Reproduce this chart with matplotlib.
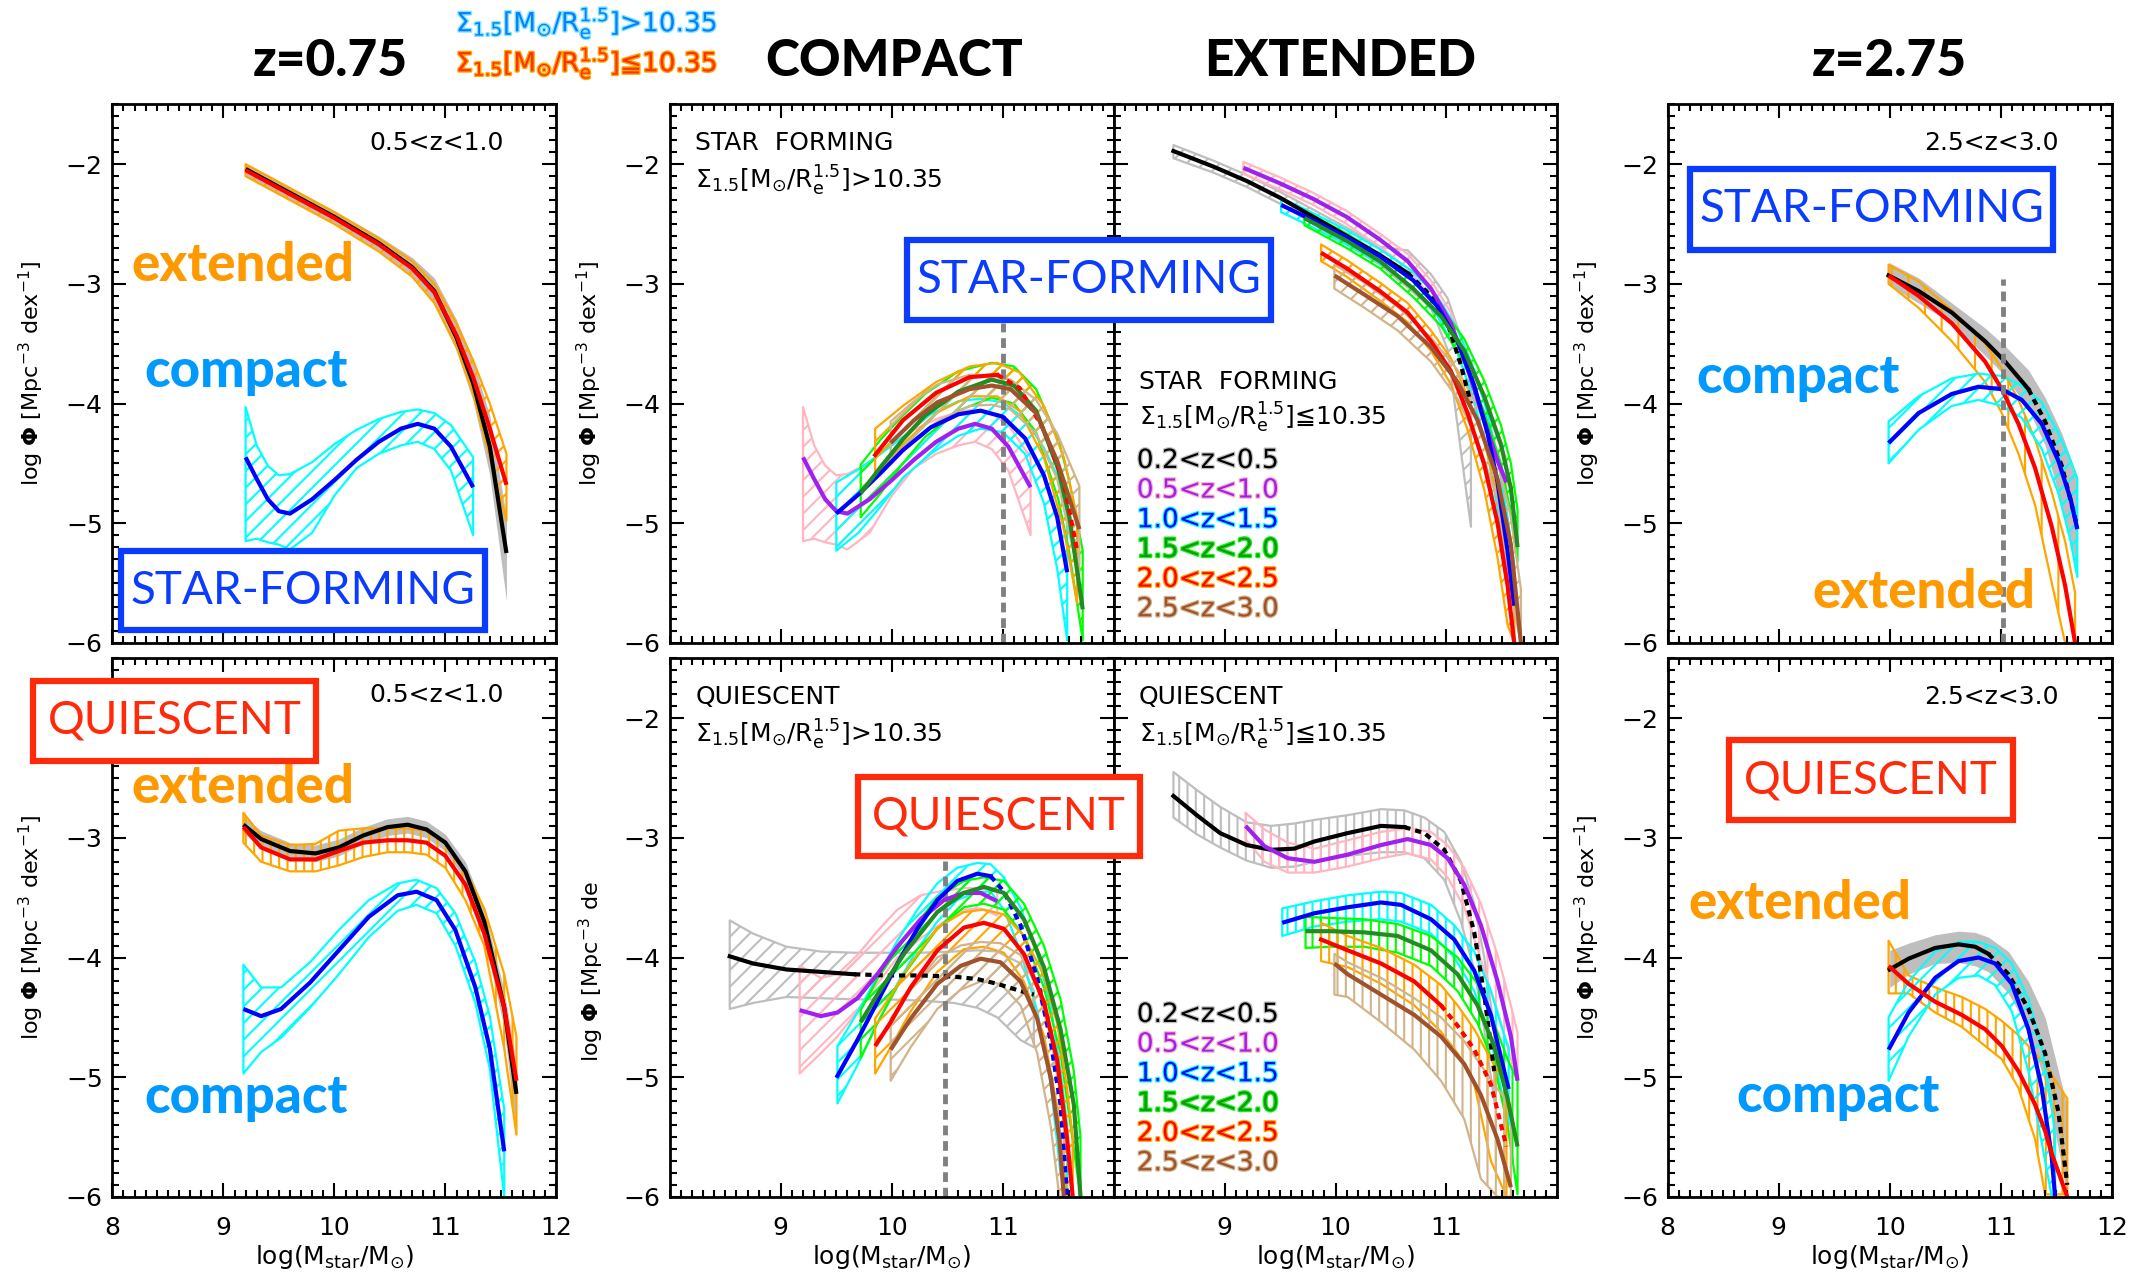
import numpy as np
import matplotlib
matplotlib.use('Agg')
import matplotlib.pyplot as plt
from matplotlib.patches import Rectangle
from matplotlib.ticker import MultipleLocator
import matplotlib.patheffects as pe

plt.rcParams['font.family'] = ['DejaVu Sans']
plt.rcParams['mathtext.fontset'] = 'dejavusans'
plt.rcParams['hatch.linewidth'] = 1.5

# ---------------- data (log M, log Phi) ----------------
# panel A: star-forming 0.5<z<1.0
A_tot_x = [9.2, 9.6, 10.0, 10.4, 10.7, 10.9, 11.1, 11.25, 11.4, 11.55]
A_tot_y = [-2.04, -2.24, -2.44, -2.66, -2.86, -3.06, -3.45, -3.83, -4.36, -5.25]
A_tot_lo = [-2.09, -2.29, -2.49, -2.72, -2.93, -3.15, -3.56, -3.98, -4.6, -5.65]
A_tot_hi = [-1.99, -2.19, -2.39, -2.60, -2.78, -2.95, -3.30, -3.65, -4.1, -4.95]
A_ext_y = [-2.05, -2.25, -2.45, -2.67, -2.87, -3.07, -3.43, -3.78, -4.21, -4.68]
A_ext_lo = [-2.10, -2.30, -2.50, -2.73, -2.94, -3.16, -3.53, -3.92, -4.45, -4.98]
A_ext_hi = [-2.00, -2.20, -2.40, -2.62, -2.81, -3.00, -3.33, -3.64, -4.00, -4.42]
A_cmp_x = [9.2, 9.3, 9.4, 9.5, 9.6, 9.8, 10.0, 10.2, 10.4, 10.6, 10.75, 10.9, 11.05, 11.25]
A_cmp_y = [-4.45, -4.63, -4.80, -4.90, -4.92, -4.80, -4.64, -4.47, -4.32, -4.21, -4.17, -4.21, -4.36, -4.70]
A_cmp_hi = [-4.03, -4.35, -4.52, -4.60, -4.59, -4.49, -4.34, -4.22, -4.13, -4.07, -4.05, -4.08, -4.18, -4.45]
A_cmp_lo = [-5.15, -5.13, -5.16, -5.18, -5.22, -5.08, -4.77, -4.54, -4.42, -4.35, -4.32, -4.38, -4.56, -5.10]

# panel B: compact star-forming, per redshift bin
B1_x = [9.5, 9.7, 9.9, 10.1, 10.35, 10.6, 10.8, 11.0, 11.2, 11.37, 11.49, 11.58]
B1_y = [-4.92, -4.76, -4.58, -4.39, -4.20, -4.09, -4.06, -4.11, -4.29, -4.60, -4.95, -5.41]
B1_hi = [-4.66, -4.55, -4.42, -4.28, -4.09, -3.98, -3.96, -3.99, -4.13, -4.37, -4.60, -4.92]
B1_lo = [-5.23, -5.08, -4.86, -4.62, -4.42, -4.27, -4.21, -4.24, -4.42, -4.83, -5.38, -5.98]
B2_x = [9.72, 9.9, 10.1, 10.3, 10.6, 10.9, 11.1, 11.3, 11.5, 11.6, 11.72]
B2_y = [-4.75, -4.53, -4.30, -4.10, -3.90, -3.80, -3.85, -4.06, -4.55, -4.95, -5.72]
B2_hi = [-4.51, -4.30, -4.10, -3.92, -3.73, -3.66, -3.69, -3.88, -4.30, -4.65, -5.23]
B2_lo = [-4.95, -4.75, -4.50, -4.28, -4.06, -3.95, -4.00, -4.24, -4.80, -5.25, -5.98]
B3_x = [9.85, 10.1, 10.4, 10.7, 10.95, 11.15, 11.37, 11.55, 11.67]
B3_y = [-4.43, -4.14, -3.91, -3.78, -3.76, -3.87, -4.22, -4.66, -5.23]
B3_hi = [-4.21, -4.02, -3.82, -3.69, -3.66, -3.74, -4.02, -4.45, -4.95]
B3_lo = [-4.60, -4.34, -4.08, -3.94, -3.94, -4.06, -4.45, -5.05, -5.67]
B4_x = [9.99, 10.2, 10.41, 10.7, 10.9, 11.07, 11.3, 11.49, 11.69]
B4_y = [-4.33, -4.14, -3.99, -3.88, -3.85, -3.88, -4.08, -4.48, -5.05]
B4_hi = [-4.15, -3.98, -3.84, -3.76, -3.77, -3.80, -3.97, -4.25, -4.69]
B4_lo = [-4.50, -4.30, -4.15, -4.02, -4.01, -4.05, -4.25, -4.63, -5.46]

# panel C: extended star-forming
C0_x = [8.54, 8.9, 9.2, 9.5, 9.8, 10.1, 10.4, 10.65, 10.86, 11.01, 11.13, 11.22]
C0_y = [-1.89, -2.02, -2.14, -2.28, -2.44, -2.60, -2.76, -2.91, -3.10, -3.33, -3.68, -4.00]
C0_hi = [-1.84, -1.97, -2.09, -2.23, -2.38, -2.53, -2.69, -2.72, -2.92, -3.12, -3.45, -3.80]
C0_lo = [-1.95, -2.07, -2.19, -2.33, -2.50, -2.67, -2.84, -3.03, -3.20, -3.55, -4.40, -5.03]
C1_x = [9.17, 9.5, 9.8, 10.1, 10.4, 10.65, 10.86, 11.04, 11.19, 11.34, 11.46, 11.54]
C1_y = [-2.03, -2.16, -2.29, -2.44, -2.63, -2.81, -3.04, -3.33, -3.71, -4.14, -4.48, -4.66]
C1_hi = [-1.98, -2.11, -2.24, -2.39, -2.58, -2.75, -2.97, -3.24, -3.60, -3.98, -4.30, -4.46]
C1_lo = [-2.08, -2.21, -2.34, -2.50, -2.69, -2.87, -3.11, -3.41, -3.82, -4.28, -4.62, -4.80]
C2_x = [9.51, 9.8, 10.1, 10.4, 10.7, 10.92, 11.1, 11.25, 11.37, 11.46, 11.55, 11.61]
C2_y = [-2.34, -2.47, -2.61, -2.77, -2.97, -3.19, -3.48, -3.85, -4.25, -4.66, -5.23, -5.69]
C2_hi = [-2.28, -2.41, -2.55, -2.71, -2.90, -3.11, -3.38, -3.72, -4.08, -4.45, -4.95, -5.35]
C2_lo = [-2.40, -2.53, -2.67, -2.83, -3.04, -3.27, -3.58, -3.98, -4.42, -4.88, -5.50, -6.00]
C3_x = [9.72, 10.1, 10.4, 10.7, 10.95, 11.16, 11.34, 11.49, 11.58, 11.64]
C3_y = [-2.45, -2.64, -2.81, -3.04, -3.27, -3.56, -3.94, -4.34, -4.71, -5.20]
C3_hi = [-2.39, -2.58, -2.75, -2.97, -3.19, -3.46, -3.81, -4.18, -4.50, -4.89]
C3_lo = [-2.51, -2.70, -2.87, -3.11, -3.35, -3.66, -4.07, -4.50, -4.92, -5.32]
C4_x = [9.87, 10.1, 10.4, 10.65, 10.86, 11.04, 11.19, 11.34, 11.46, 11.55, 11.61]
C4_y = [-2.74, -2.87, -3.06, -3.24, -3.48, -3.73, -4.08, -4.51, -5.00, -5.52, -6.00]
C4_hi = [-2.67, -2.80, -2.99, -3.16, -3.39, -3.62, -3.94, -4.32, -4.77, -5.25, -5.64]
C4_lo = [-2.81, -2.94, -3.14, -3.32, -3.56, -3.84, -4.22, -4.72, -5.29, -5.85, -6.00]
C5_x = [9.99, 10.26, 10.56, 10.86, 11.1, 11.28, 11.46, 11.58, 11.67]
C5_y = [-2.93, -3.09, -3.27, -3.53, -3.82, -4.14, -4.63, -5.18, -6.00]
C5_hi = [-2.84, -2.99, -3.19, -3.45, -3.72, -4.02, -4.48, -4.95, -5.55]
C5_lo = [-3.04, -3.20, -3.39, -3.65, -3.96, -4.31, -4.80, -5.60, -6.00]

# panel D: star-forming 2.5<z<3.0
D_tot_x = [9.99, 10.26, 10.56, 10.86, 11.04, 11.25, 11.4, 11.55, 11.69]
D_tot_y = [-2.93, -3.06, -3.24, -3.48, -3.65, -3.88, -4.15, -4.52, -5.03]
D_tot_hi = [-2.82, -2.95, -3.16, -3.37, -3.52, -3.72, -3.95, -4.25, -4.61]
D_tot_lo = [-3.01, -3.16, -3.33, -3.60, -3.77, -4.05, -4.35, -4.85, -5.43]
D_ext_x = [9.99, 10.26, 10.56, 10.86, 11.01, 11.16, 11.31, 11.46, 11.58, 11.67]
D_ext_y = [-2.93, -3.10, -3.33, -3.65, -3.88, -4.17, -4.54, -5.03, -5.52, -6.00]
D_ext_hi = [-2.84, -2.98, -3.22, -3.50, -3.71, -3.97, -4.30, -4.74, -5.15, -5.58]
D_ext_lo = [-3.00, -3.20, -3.48, -3.82, -4.08, -4.42, -4.85, -5.50, -6.00, -6.00]
D_cmp_x = [9.99, 10.26, 10.56, 10.8, 11.01, 11.19, 11.37, 11.52, 11.63, 11.69]
D_cmp_y = [-4.33, -4.08, -3.92, -3.86, -3.88, -3.97, -4.17, -4.48, -4.80, -5.05]
D_cmp_hi = [-4.15, -3.94, -3.79, -3.75, -3.77, -3.85, -3.99, -4.25, -4.48, -4.63]
D_cmp_lo = [-4.50, -4.22, -4.02, -3.97, -4.02, -4.12, -4.38, -4.75, -5.15, -5.45]

# panel E: quiescent 0.5<z<1.0
E_x = [9.18, 9.34, 9.6, 9.83, 10.04, 10.26, 10.48, 10.66, 10.83, 11.0, 11.18, 11.35, 11.53, 11.64]
E_tot_y = [-2.89, -3.01, -3.11, -3.13, -3.08, -2.98, -2.91, -2.89, -2.93, -3.04, -3.28, -3.70, -4.42, -5.14]
E_tot_hi = [-2.82, -2.94, -3.04, -3.06, -3.01, -2.91, -2.84, -2.82, -2.86, -2.97, -3.20, -3.60, -4.28, -4.90]
E_tot_lo = [-2.96, -3.08, -3.18, -3.20, -3.15, -3.05, -2.98, -2.96, -3.00, -3.11, -3.36, -3.82, -4.60, -5.51]
E_ext_y = [-2.91, -3.08, -3.18, -3.18, -3.11, -3.04, -3.02, -3.02, -3.04, -3.15, -3.39, -3.80, -4.42, -5.03]
E_ext_hi = [-2.79, -2.98, -3.06, -3.05, -2.94, -2.92, -2.92, -2.92, -2.94, -3.04, -3.27, -3.59, -4.14, -4.66]
E_ext_lo = [-3.04, -3.20, -3.28, -3.28, -3.23, -3.16, -3.12, -3.12, -3.14, -3.25, -3.52, -3.90, -4.76, -5.48]
E_cmp_x = [9.18, 9.34, 9.52, 9.78, 10.04, 10.31, 10.57, 10.74, 10.92, 11.09, 11.27, 11.40, 11.53]
E_cmp_y = [-4.43, -4.49, -4.43, -4.21, -3.94, -3.66, -3.48, -3.45, -3.52, -3.77, -4.25, -4.76, -5.62]
E_cmp_hi = [-4.06, -4.25, -4.25, -4.04, -3.77, -3.52, -3.38, -3.35, -3.42, -3.63, -4.04, -4.49, -5.27]
E_cmp_lo = [-4.97, -4.79, -4.67, -4.42, -4.14, -3.83, -3.61, -3.56, -3.63, -3.90, -4.38, -4.93, -6.00]

# panel F: compact quiescent
F0_x = [8.54, 8.75, 9.05, 9.36, 9.66, 9.96, 10.26, 10.56, 10.77, 10.95, 11.16, 11.28]
F0_y = [-3.99, -4.05, -4.10, -4.12, -4.14, -4.15, -4.15, -4.16, -4.18, -4.22, -4.28, -4.31]
F0_hi = [-3.69, -3.80, -3.91, -3.95, -3.96, -3.96, -3.96, -3.95, -3.94, -3.95, -4.05, -4.28]
F0_lo = [-4.43, -4.38, -4.33, -4.34, -4.35, -4.35, -4.36, -4.38, -4.42, -4.50, -4.69, -4.75]
F1_x = [9.17, 9.36, 9.51, 9.69, 9.87, 10.05, 10.26, 10.47, 10.65, 10.8, 10.95]
F1_y = [-4.44, -4.49, -4.46, -4.34, -4.14, -3.91, -3.68, -3.52, -3.46, -3.46, -3.53]
F1_hi = [-4.07, -4.17, -4.14, -3.98, -3.78, -3.60, -3.48, -3.44, -3.42, -3.42, -3.45]
F1_lo = [-4.97, -4.80, -4.66, -4.45, -4.22, -4.00, -3.84, -3.70, -3.60, -3.59, -3.65]
F2_x = [9.51, 9.69, 9.87, 10.05, 10.23, 10.41, 10.59, 10.77, 10.89, 11.01, 11.16, 11.31, 11.43, 11.52, 11.58]
F2_y = [-4.99, -4.69, -4.37, -4.05, -3.76, -3.52, -3.36, -3.30, -3.32, -3.45, -3.73, -4.17, -4.69, -5.23, -6.0]
F2_hi = [-4.74, -4.46, -4.16, -3.86, -3.60, -3.38, -3.25, -3.21, -3.22, -3.33, -3.58, -3.97, -4.40, -4.95, -5.40]
F2_lo = [-5.22, -4.90, -4.55, -4.22, -3.93, -3.70, -3.52, -3.45, -3.45, -3.60, -3.95, -4.45, -5.05, -5.80, -6.0]
F3_x = [9.72, 9.87, 10.11, 10.41, 10.65, 10.83, 11.01, 11.19, 11.37, 11.52, 11.64, 11.70]
F3_y = [-4.54, -4.31, -3.97, -3.62, -3.46, -3.41, -3.46, -3.68, -4.08, -4.60, -5.23, -6.0]
F3_hi = [-4.44, -4.18, -3.85, -3.50, -3.36, -3.33, -3.36, -3.55, -3.90, -4.35, -4.95, -5.50]
F3_lo = [-4.84, -4.55, -4.14, -3.76, -3.58, -3.55, -3.60, -3.82, -4.25, -4.80, -5.60, -6.0]
F4_x = [9.85, 9.99, 10.17, 10.41, 10.65, 10.83, 11.01, 11.19, 11.37, 11.49, 11.58, 11.63]
F4_y = [-4.74, -4.54, -4.25, -3.94, -3.75, -3.71, -3.76, -3.97, -4.37, -4.86, -5.52, -6.0]
F4_hi = [-4.51, -4.32, -4.05, -3.75, -3.62, -3.60, -3.64, -3.82, -4.15, -4.55, -5.10, -5.50]
F4_lo = [-4.97, -4.75, -4.45, -4.12, -3.93, -3.91, -3.96, -4.20, -4.65, -5.25, -6.0, -6.0]
F5_x = [9.99, 10.17, 10.41, 10.62, 10.8, 10.98, 11.16, 11.31, 11.43, 11.51, 11.55]
F5_y = [-4.77, -4.51, -4.22, -4.07, -4.01, -4.04, -4.20, -4.51, -5.00, -5.52, -6.0]
F5_hi = [-4.51, -4.27, -4.00, -3.90, -3.87, -3.88, -3.98, -4.25, -4.65, -5.10, -5.40]
F5_lo = [-5.03, -4.75, -4.43, -4.27, -4.20, -4.22, -4.40, -4.80, -5.40, -6.0, -6.0]

# panel G: extended quiescent
G0_x = [8.54, 8.75, 8.96, 9.2, 9.42, 9.63, 9.81, 10.11, 10.41, 10.62, 10.8, 10.98, 11.13, 11.25, 11.34, 11.43]
G0_y = [-2.65, -2.81, -2.96, -3.06, -3.10, -3.09, -3.03, -2.96, -2.90, -2.91, -2.96, -3.10, -3.36, -3.79, -4.31, -4.95]
G0_hi = [-2.45, -2.60, -2.74, -2.87, -2.90, -2.88, -2.85, -2.81, -2.76, -2.77, -2.83, -2.95, -3.20, -3.55, -4.0, -4.6]
G0_lo = [-2.83, -2.97, -3.08, -3.19, -3.25, -3.24, -3.20, -3.15, -3.12, -3.12, -3.17, -3.35, -3.70, -4.10, -4.6, -5.2]
G1_x = [9.19, 9.36, 9.57, 9.81, 10.11, 10.41, 10.65, 10.86, 11.01, 11.16, 11.31, 11.46, 11.58, 11.64]
G1_y = [-2.90, -3.07, -3.17, -3.20, -3.14, -3.06, -3.01, -3.06, -3.17, -3.39, -3.73, -4.20, -4.66, -5.03]
G1_hi = [-2.79, -2.93, -3.04, -3.09, -3.02, -2.95, -2.92, -2.95, -3.06, -3.25, -3.55, -3.98, -4.40, -4.63]
G1_lo = [-3.01, -3.20, -3.29, -3.29, -3.24, -3.17, -3.13, -3.18, -3.33, -3.58, -4.02, -4.45, -4.85, -5.03]
G2_x = [9.52, 9.81, 10.11, 10.41, 10.59, 10.86, 11.07, 11.25, 11.40, 11.52, 11.56]
G2_y = [-3.71, -3.63, -3.58, -3.54, -3.56, -3.68, -3.85, -4.11, -4.48, -4.95, -5.10]
G2_hi = [-3.59, -3.53, -3.48, -3.45, -3.46, -3.56, -3.73, -3.95, -4.28, -4.65, -4.75]
G2_lo = [-3.82, -3.74, -3.70, -3.68, -3.70, -3.80, -4.00, -4.28, -4.68, -5.23, -5.40]
G3_x = [9.73, 9.96, 10.26, 10.56, 10.86, 11.10, 11.28, 11.43, 11.55, 11.64]
G3_y = [-3.78, -3.78, -3.79, -3.82, -3.94, -4.14, -4.40, -4.74, -5.18, -5.58]
G3_hi = [-3.66, -3.67, -3.68, -3.72, -3.82, -4.00, -4.22, -4.55, -4.85, -5.03]
G3_lo = [-3.92, -3.91, -3.91, -3.96, -4.07, -4.28, -4.55, -4.90, -5.40, -5.98]
G4_x = [9.87, 10.11, 10.41, 10.71, 10.95, 11.10, 11.25, 11.40, 11.54]
G4_y = [-3.85, -3.94, -4.05, -4.20, -4.40, -4.57, -4.77, -5.06, -5.58]
G4_hi = [-3.71, -3.82, -3.92, -4.06, -4.23, -4.40, -4.60, -4.85, -5.06]
G4_lo = [-4.03, -4.08, -4.22, -4.40, -4.62, -4.80, -5.06, -5.70, -6.00]
G5_x = [9.99, 10.11, 10.41, 10.71, 10.95, 11.16, 11.31, 11.46, 11.58]
G5_y = [-4.05, -4.14, -4.31, -4.48, -4.66, -4.89, -5.15, -5.52, -5.92]
G5_hi = [-3.97, -4.04, -4.17, -4.34, -4.50, -4.70, -4.90, -5.10, -5.23]
G5_lo = [-4.31, -4.33, -4.54, -4.77, -5.03, -5.35, -5.85, -6.0, -6.0]

# panel H: quiescent 2.5<z<3.0
H_tot_x = [10.0, 10.17, 10.41, 10.62, 10.77, 10.89, 11.07, 11.25, 11.40, 11.52, 11.60]
H_tot_y = [-4.10, -4.01, -3.92, -3.89, -3.91, -3.97, -4.14, -4.43, -4.80, -5.29, -5.90]
H_tot_hi = [-3.94, -3.88, -3.81, -3.78, -3.79, -3.83, -3.95, -4.20, -4.50, -4.95, -5.25]
H_tot_lo = [-4.25, -4.14, -4.05, -4.04, -4.07, -4.12, -4.30, -4.60, -5.05, -5.60, -6.0]
H_ext_x = [9.99, 10.17, 10.41, 10.65, 10.86, 11.01, 11.16, 11.31, 11.40, 11.46, 11.60]
H_ext_y = [-4.07, -4.22, -4.37, -4.48, -4.60, -4.74, -4.95, -5.23, -5.45, -5.64, -6.0]
H_ext_hi = [-3.86, -4.15, -4.25, -4.33, -4.43, -4.53, -4.65, -4.80, -4.90, -4.98, -5.18]
H_ext_lo = [-4.30, -4.30, -4.46, -4.58, -4.74, -4.85, -5.09, -5.52, -5.98, -5.98, -5.98]
H_cmp_x = [9.99, 10.17, 10.41, 10.62, 10.8, 10.95, 11.10, 11.25, 11.37, 11.46, 11.49]
H_cmp_y = [-4.77, -4.46, -4.17, -4.03, -4.00, -4.05, -4.22, -4.60, -5.09, -5.67, -6.0]
H_cmp_hi = [-4.50, -4.20, -3.95, -3.87, -3.87, -3.92, -4.05, -4.35, -4.75, -5.25, -5.5]
H_cmp_lo = [-5.03, -4.66, -4.31, -4.17, -4.15, -4.23, -4.45, -4.95, -5.55, -6.0, -6.0]

zbins = ['0.2<z<0.5', '0.5<z<1.0', '1.0<z<1.5', '1.5<z<2.0', '2.0<z<2.5', '2.5<z<3.0']
line_cols = ['black', '#A020F0', '#0000FF', '#228B22', '#FF0000', '#A0522D']
band_cols = ['#BEBEBE', '#FFB6C1', '#00FFFF', '#00FF00', '#FFA500', '#D2B48C']
mass_cut_B, mass_cut_D, mass_cut_F = 11.0, 11.02, 10.48

W, H = 2129, 1281
fig = plt.figure(figsize=(W / 100, H / 100), dpi=100)


def make_ax(px_left, px_top):
    ax = fig.add_axes([px_left / W, 1 - (px_top + 538.4) / H, 444 / W, 538.4 / H])
    ax.set_xlim(8, 12)
    ax.set_ylim(-6, -1.5)
    ax.set_yticks([-2, -3, -4, -5, -6])
    ax.xaxis.set_minor_locator(MultipleLocator(0.1))
    ax.yaxis.set_minor_locator(MultipleLocator(0.1))
    ax.tick_params(which='both', direction='in', top=True, right=True, width=1.5)
    ax.tick_params(which='major', length=10, labelsize=18, pad=7)
    ax.tick_params(axis='x', which='major', pad=14)
    ax.tick_params(which='minor', length=5)
    for s in ax.spines.values():
        s.set_linewidth(2)
    return ax


def band(ax, x, lo, hi, col, hatch=None):
    if hatch is None:
        ax.fill_between(x, lo, hi, color=col, lw=0)
    else:
        ax.fill_between(x, lo, hi, facecolor='none', edgecolor=col, hatch=hatch, lw=1.6)


def line(ax, x, y, col, dash_from=None, lw=3):
    x = np.asarray(x)
    y = np.asarray(y)
    if dash_from is None:
        ax.plot(x, y, color=col, lw=lw, solid_capstyle='butt')
        return
    k = int((x <= dash_from).sum())
    ax.plot(x[:k], y[:k], color=col, lw=lw)
    ax.plot(x[k - 1:], y[k - 1:], color=col, lw=lw, ls=(0, (1.5, 1.2)))


ylabel_txt = r'log $\mathbf{\Phi}$ [Mpc$^{-3}$ dex$^{-1}$]'


def ylab(ax):
    ax.set_ylabel(ylabel_txt, fontsize=16)
    ax.yaxis.set_label_coords(-66 / 444, 0.5)


def xlab(ax):
    ax.set_xlabel(r'log(M$_{\rm star}$/M$_{\odot}$)', fontsize=18)
    ax.xaxis.set_label_coords(0.5, -0.085)


def word(ax, x, y, s, col):
    ax.text(x, y, s, color=col, fontsize=38, family='Lato', fontweight='black', va='baseline')


def box(x0, y0, x1, y1, col, s):
    fig.add_artist(Rectangle((x0 / W, 1 - y1 / H), (x1 - x0) / W, (y1 - y0) / H,
                             transform=fig.transFigure, facecolor='white',
                             edgecolor=col, lw=4.5, zorder=5))
    fig.text((x0 + x1) / 2 / W, 1 - (y0 + y1) / 2 / H, s, color=col, fontsize=33,
             family='Lato', ha='center', va='center', zorder=6)


def zlegend(ax):
    for i, lab in enumerate(zbins):
        ax.text(8.21, -4.48 - 0.248 * i, lab, fontsize=19, color=line_cols[i], va='center',
                path_effects=[pe.withStroke(linewidth=1.8, foreground=band_cols[i])])


sig_gt = r'$\Sigma_{1.5}$[M$_{\odot}$/R$_{\rm e}^{1.5}$]>10.35'
sig_le = r'$\Sigma_{1.5}$[M$_{\odot}$/R$_{\rm e}^{1.5}$]≦10.35'
CMP, EXT = '#0099FF', '#FF9900'
BLUE, RED = '#0A3CFF', '#FF2A0A'

colL, colB, colC, colD = 112.4, 669.8, 1113.5, 1667.7
rowT, rowB = 104.4, 658.4

# ---------------- A ----------------
ax = make_ax(colL, rowT)
ax.set_xticks([8, 9, 10, 11, 12]); ax.set_xticklabels([])
band(ax, A_tot_x, A_tot_lo, A_tot_hi, '#BEBEBE')
line(ax, A_tot_x, A_tot_y, 'black')
band(ax, A_tot_x, A_ext_lo, A_ext_hi, '#FFA500', '//')
line(ax, A_tot_x, A_ext_y, 'red')
band(ax, A_cmp_x, A_cmp_lo, A_cmp_hi, '#00FFFF', '//')
line(ax, A_cmp_x, A_cmp_y, '#0000FF')
ax.text(11.53, -1.82, '0.5<z<1.0', fontsize=18, ha='right', va='center')
word(ax, 8.17, -2.98, 'extended', EXT)
word(ax, 8.29, -3.86, 'compact', CMP)
ylab(ax)

# ---------------- B ----------------
ax = make_ax(colB, rowT)
ax.set_xticks([9, 10, 11]); ax.set_xticklabels([])
ax.vlines(mass_cut_B, -6, -3.33, color='#808080', lw=3.5, ls=(0, (2, 1.2)))
for i, (x, y, lo, hi) in enumerate([(A_cmp_x, A_cmp_y, A_cmp_lo, A_cmp_hi),
                                    (B1_x, B1_y, B1_lo, B1_hi), (B2_x, B2_y, B2_lo, B2_hi),
                                    (B3_x, B3_y, B3_lo, B3_hi), (B4_x, B4_y, B4_lo, B4_hi)]):
    band(ax, x, lo, hi, band_cols[i + 1], '//')
    line(ax, x, y, line_cols[i + 1], dash_from=10.95 if i == 3 else None)
ax.text(8.23, -1.82, 'STAR  FORMING', fontsize=18, va='center')
ax.text(8.23, -2.14, sig_gt, fontsize=18, va='center')
ylab(ax)

# ---------------- C ----------------
ax = make_ax(colC, rowT)
ax.set_xticks([9, 10, 11]); ax.set_xticklabels([]); ax.set_yticklabels([])
for i, (x, y, lo, hi) in enumerate([(C0_x, C0_y, C0_lo, C0_hi), (C1_x, C1_y, C1_lo, C1_hi),
                                    (C2_x, C2_y, C2_lo, C2_hi), (C3_x, C3_y, C3_lo, C3_hi),
                                    (C4_x, C4_y, C4_lo, C4_hi), (C5_x, C5_y, C5_lo, C5_hi)]):
    band(ax, x, lo, hi, band_cols[i], '//')
    line(ax, x, y, line_cols[i], dash_from=10.65 if i == 0 else None)
ax.text(8.23, -3.82, 'STAR  FORMING', fontsize=18, va='center')
ax.text(8.23, -4.12, sig_le, fontsize=18, va='center')
zlegend(ax)

# ---------------- D ----------------
ax = make_ax(colD, rowT)
ax.set_xticks([8, 9, 10, 11, 12]); ax.set_xticklabels([])
band(ax, D_tot_x, D_tot_lo, D_tot_hi, '#BEBEBE')
line(ax, D_tot_x, D_tot_y, 'black', dash_from=11.25)
band(ax, D_ext_x, D_ext_lo, D_ext_hi, '#FFA500', '|')
line(ax, D_ext_x, D_ext_y, 'red')
band(ax, D_cmp_x, D_cmp_lo, D_cmp_hi, '#00FFFF', '//')
line(ax, D_cmp_x, D_cmp_y, '#0000FF')
ax.vlines(mass_cut_D, -6, -2.96, color='#808080', lw=3.5, ls=(0, (2, 1.2)))
ax.text(11.52, -1.82, '2.5<z<3.0', fontsize=18, ha='right', va='center')
word(ax, 8.26, -3.91, 'compact', CMP)
word(ax, 9.30, -5.71, 'extended', EXT)
ylab(ax)

# ---------------- E ----------------
ax = make_ax(colL, rowB)
ax.set_xticks([8, 9, 10, 11, 12])
# the -2 label sits under the QUIESCENT box in the original
ax.set_yticklabels(['', '\u22123', '\u22124', '\u22125', '\u22126'])
band(ax, E_x, E_tot_lo, E_tot_hi, '#BEBEBE')
line(ax, E_x, E_tot_y, 'black')
band(ax, E_x, E_ext_lo, E_ext_hi, '#FFA500', '||')
line(ax, E_x, E_ext_y, 'red')
band(ax, E_cmp_x, E_cmp_lo, E_cmp_hi, '#00FFFF', '//')
line(ax, E_cmp_x, E_cmp_y, '#0000FF')
ax.text(11.53, -1.81, '0.5<z<1.0', fontsize=18, ha='right', va='center')
word(ax, 8.17, -2.71, 'extended', EXT)
word(ax, 8.29, -5.30, 'compact', CMP)
ylab(ax)
xlab(ax)

# ---------------- F ----------------
ax = make_ax(colB, rowB)
ax.set_xticks([9, 10, 11])
ax.vlines(mass_cut_F, -6, -3.19, color='#808080', lw=3.5, ls=(0, (2, 1.2)))
for i, (x, y, lo, hi) in enumerate([(F0_x, F0_y, F0_lo, F0_hi), (F1_x, F1_y, F1_lo, F1_hi),
                                    (F2_x, F2_y, F2_lo, F2_hi), (F3_x, F3_y, F3_lo, F3_hi),
                                    (F4_x, F4_y, F4_lo, F4_hi), (F5_x, F5_y, F5_lo, F5_hi)]):
    band(ax, x, lo, hi, band_cols[i], '//')
    line(ax, x, y, line_cols[i], dash_from={0: 9.7, 2: 11.0}.get(i))
ax.text(8.23, -1.82, 'QUIESCENT', fontsize=18, va='center')
ax.text(8.23, -2.14, sig_gt, fontsize=18, va='center')
xlab(ax)
fig.text((colB - 78) / W, 1 - 1062 / H, r'log $\mathbf{\Phi}$ [Mpc$^{-3}$ de', fontsize=16,
         rotation=90, ha='center', va='bottom')

# ---------------- G ----------------
ax = make_ax(colC, rowB)
ax.set_xticks([9, 10, 11]); ax.set_yticklabels([])
for i, (x, y, lo, hi) in enumerate([(G0_x, G0_y, G0_lo, G0_hi), (G1_x, G1_y, G1_lo, G1_hi),
                                    (G2_x, G2_y, G2_lo, G2_hi), (G3_x, G3_y, G3_lo, G3_hi),
                                    (G4_x, G4_y, G4_lo, G4_hi), (G5_x, G5_y, G5_lo, G5_hi)]):
    band(ax, x, lo, hi, band_cols[i], '||')
    line(ax, x, y, line_cols[i], dash_from={0: 10.75, 4: 11.0}.get(i))
ax.text(8.23, -1.82, 'QUIESCENT', fontsize=18, va='center')
ax.text(8.23, -2.14, sig_le, fontsize=18, va='center')
zlegend(ax)
xlab(ax)

# ---------------- H ----------------
ax = make_ax(colD, rowB)
ax.set_xticks([8, 9, 10, 11, 12])
band(ax, H_tot_x, H_tot_lo, H_tot_hi, '#BEBEBE')
line(ax, H_tot_x, H_tot_y, 'black', dash_from=10.9)
band(ax, H_ext_x, H_ext_lo, H_ext_hi, '#FFA500', '||')
band(ax, H_cmp_x, H_cmp_lo, H_cmp_hi, '#00FFFF', '//')
line(ax, H_cmp_x, H_cmp_y, '#0000FF')
line(ax, H_ext_x, H_ext_y, 'red')
ax.text(11.52, -1.82, '2.5<z<3.0', fontsize=18, ha='right', va='center')
word(ax, 8.19, -3.68, 'extended', EXT)
word(ax, 8.62, -5.29, 'compact', CMP)
ylab(ax)
xlab(ax)

# ---------------- boxes and titles ----------------
box(121, 551, 485, 630, BLUE, 'STAR-FORMING')
box(907, 240, 1271, 320, BLUE, 'STAR-FORMING')
box(1690, 169, 2053, 250, BLUE, 'STAR-FORMING')
box(33, 681, 316, 761, RED, 'QUIESCENT')
box(858, 777, 1140, 856, RED, 'QUIESCENT')
box(1729, 740, 2013, 820, RED, 'QUIESCENT')

for xc, s in [(330, 'z=0.75'), (894, 'COMPACT'), (1340, 'EXTENDED'), (1889, 'z=2.75')]:
    fig.text(xc / W, 1 - 61 / H, s, fontsize=37, family='Lato', fontweight='black',
             ha='center', va='center')
fig.text(456 / W, 1 - 23 / H, sig_gt, fontsize=19, color='#0A7CFF', va='center',
         path_effects=[pe.withStroke(linewidth=2, foreground='#7FE8FF')])
fig.text(456 / W, 1 - 63 / H, sig_le, fontsize=19, color='#FF3000', va='center',
         path_effects=[pe.withStroke(linewidth=2, foreground='#FFA500')])

fig.savefig('out.png', dpi=100)
